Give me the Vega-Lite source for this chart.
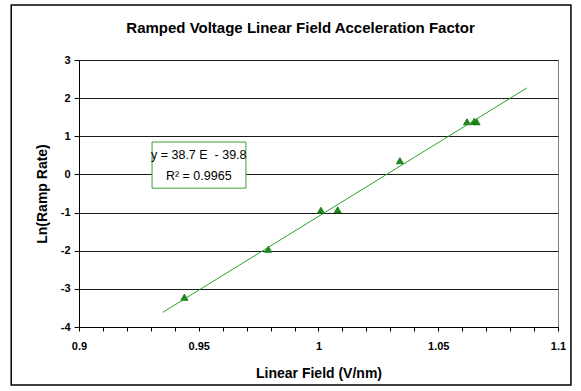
{
  "$schema": "https://vega.github.io/schema/vega-lite/v6.json",
  "width": 479,
  "height": 267,
  "autosize": "none",
  "padding": {"left": 79, "top": 60, "right": 23, "bottom": 64},
  "background": "white",
  "config": {
    "font": "Liberation Sans",
    "view": {"stroke": "#808080", "strokeWidth": 1},
    "axis": {"labelFont": "Liberation Sans", "titleFont": "Liberation Sans", "labelFontWeight": "bold", "titleFontWeight": "bold", "labelColor": "black", "titleColor": "black", "domainColor": "black", "tickColor": "black", "labelFontSize": 11, "titleFontSize": 14, "labelOverlap": false, "labelFlush": false},
    "axisX": {"grid": false, "tickSize": 4, "labelPadding": 9, "titleY": 39},
    "axisY": {"grid": true, "gridColor": "#1a1a1a", "gridOpacity": 1, "tickSize": 5, "labelPadding": 4, "titleX": -30}
  },
  "title": {"text": "Ramped Voltage Linear Field Acceleration Factor", "fontSize": 15, "fontWeight": "bold", "font": "Liberation Sans", "color": "black", "anchor": "middle", "dx": -18, "offset": -13, "dy": 19},
  "datasets": {
    "points": [
      {"field": 0.944, "lnrate": -3.22},
      {"field": 0.979, "lnrate": -1.96},
      {"field": 1.001, "lnrate": -0.94},
      {"field": 1.008, "lnrate": -0.93},
      {"field": 1.034, "lnrate": 0.36},
      {"field": 1.062, "lnrate": 1.38},
      {"field": 1.065, "lnrate": 1.39},
      {"field": 1.066, "lnrate": 1.38}
    ],
    "trend": [
      {"field": 0.935, "lnrate": -3.615},
      {"field": 1.087, "lnrate": 2.267}
    ],
    "label": [
      {"line": "y = 38.7 E\u00a0 - 39.8", "field": 0.950, "lnrate": 0.5},
      {"line": "R² = 0.9965", "field": 0.950, "lnrate": -0.03}
    ]
  },
  "layer": [
    {
      "data": {"name": "points"},
      "mark": {"type": "point", "shape": "triangle-up", "filled": true, "size": 50, "color": "#1a8c1a", "stroke": "#0a6a0a", "strokeWidth": 0.8, "opacity": 1},
      "encoding": {
        "x": {"field": "field", "type": "quantitative", "scale": {"domain": [0.9, 1.1], "nice": false, "zero": false},
          "axis": {"title": "Linear Field (V/nm)", "values": [0.9,0.91,0.92,0.93,0.94,0.95,0.96,0.97,0.98,0.99,1.0,1.01,1.02,1.03,1.04,1.05,1.06,1.07,1.08,1.09,1.1],
            "labelExpr": "abs(datum.value*20 - round(datum.value*20)) < 0.001 ? format(datum.value, '~g') : ''"}},
        "y": {"field": "lnrate", "type": "quantitative", "scale": {"domain": [-4, 3], "nice": false, "zero": false},
          "axis": {"title": "Ln(Ramp Rate)", "values": [-4,-3,-2,-1,0,1,2,3], "labelExpr": "datum.value < 0 ? '-' + abs(datum.value) : '' + datum.value"}}
      }
    },
    {
      "data": {"name": "trend"},
      "mark": {"type": "line", "color": "#27a327", "strokeWidth": 1},
      "encoding": {
        "x": {"field": "field", "type": "quantitative",
          "axis": {"title": "Linear Field (V/nm)", "values": [0.9,0.91,0.92,0.93,0.94,0.95,0.96,0.97,0.98,0.99,1.0,1.01,1.02,1.03,1.04,1.05,1.06,1.07,1.08,1.09,1.1],
            "labelExpr": "abs(datum.value*20 - round(datum.value*20)) < 0.001 ? format(datum.value, '~g') : ''"}},
        "y": {"field": "lnrate", "type": "quantitative",
          "axis": {"title": "Ln(Ramp Rate)", "values": [-4,-3,-2,-1,0,1,2,3], "labelExpr": "datum.value < 0 ? '-' + abs(datum.value) : '' + datum.value"}}
      }
    },
    {
      "data": {"values": [{}]},
      "mark": {"type": "rect", "fill": "white", "stroke": "#3a9e3a", "strokeWidth": 1},
      "encoding": {
        "x": {"datum": 0.9305, "type": "quantitative",
          "axis": {"title": "Linear Field (V/nm)", "values": [0.9,0.91,0.92,0.93,0.94,0.95,0.96,0.97,0.98,0.99,1.0,1.01,1.02,1.03,1.04,1.05,1.06,1.07,1.08,1.09,1.1],
            "labelExpr": "abs(datum.value*20 - round(datum.value*20)) < 0.001 ? format(datum.value, '~g') : ''"}},
        "x2": {"datum": 0.9697},
        "y": {"datum": 0.85, "type": "quantitative",
          "axis": {"title": "Ln(Ramp Rate)", "values": [-4,-3,-2,-1,0,1,2,3], "labelExpr": "datum.value < 0 ? '-' + abs(datum.value) : '' + datum.value"}},
        "y2": {"datum": -0.36}
      }
    },
    {
      "data": {"name": "label"},
      "mark": {"type": "text", "font": "Liberation Sans", "fontSize": 12.5, "color": "black", "align": "center", "baseline": "middle"},
      "encoding": {
        "x": {"field": "field", "type": "quantitative",
          "axis": {"title": "Linear Field (V/nm)", "values": [0.9,0.91,0.92,0.93,0.94,0.95,0.96,0.97,0.98,0.99,1.0,1.01,1.02,1.03,1.04,1.05,1.06,1.07,1.08,1.09,1.1],
            "labelExpr": "abs(datum.value*20 - round(datum.value*20)) < 0.001 ? format(datum.value, '~g') : ''"}},
        "y": {"field": "lnrate", "type": "quantitative",
          "axis": {"title": "Ln(Ramp Rate)", "values": [-4,-3,-2,-1,0,1,2,3], "labelExpr": "datum.value < 0 ? '-' + abs(datum.value) : '' + datum.value"}},
        "text": {"field": "line"}
      }
    },
    {
      "data": {"values": [{}]},
      "mark": {"type": "rect", "fill": null, "stroke": "black", "strokeWidth": 1.5, "clip": false},
      "encoding": {
        "x": {"datum": 0.8717, "type": "quantitative",
          "axis": {"title": "Linear Field (V/nm)", "values": [0.9,0.91,0.92,0.93,0.94,0.95,0.96,0.97,0.98,0.99,1.0,1.01,1.02,1.03,1.04,1.05,1.06,1.07,1.08,1.09,1.1],
            "labelExpr": "abs(datum.value*20 - round(datum.value*20)) < 0.001 ? format(datum.value, '~g') : ''"}},
        "x2": {"datum": 1.1054},
        "y": {"datum": 4.44, "type": "quantitative",
          "axis": {"title": "Ln(Ramp Rate)", "values": [-4,-3,-2,-1,0,1,2,3], "labelExpr": "datum.value < 0 ? '-' + abs(datum.value) : '' + datum.value"}},
        "y2": {"datum": -5.52}
      }
    }
  ]
}
